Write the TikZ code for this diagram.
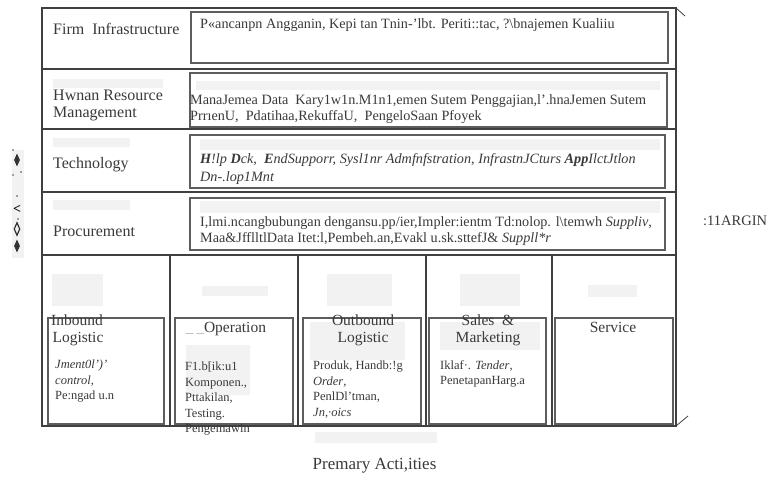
\documentclass[tikz,border=0pt]{standalone}
\usepackage{fontspec}
\setmainfont{Liberation Serif}
\usetikzlibrary{shapes.geometric}
\definecolor{ink}{HTML}{3A3A3A}
\definecolor{frame}{HTML}{404040}
\definecolor{ghost}{HTML}{F2F2F2}
\begin{document}
\begin{tikzpicture}[x=1pt,y=-1pt,
  frameline/.style={draw=frame,line width=1.1pt},
  innerbox/.style={draw=frame!85,line width=1.4pt},
  rowlabel/.style={anchor=west,inner sep=0pt,text=ink,font=\fontsize{16}{17}\selectfont,align=left},
  boxtext/.style={anchor=north west,inner sep=0pt,text=ink,font=\fontsize{14.2}{16}\selectfont,align=left},
  primtitle/.style={anchor=north,inner sep=0pt,text=ink,font=\fontsize{15.5}{17}\selectfont,align=center},
  primtext/.style={anchor=north west,inner sep=0pt,text=ink,font=\fontsize{12.5}{15.5}\selectfont,align=left},
  ghostbox/.style={fill=ghost,draw=none},
  glyph/.style={diamond,fill=black!80,inner sep=0pt,minimum width=6pt,minimum height=13pt}]
\useasboundingbox[fill=white] (0,0) rectangle (771,481);

% ghost blurs
\fill[ghostbox] (53,79) rectangle (163,88);
\fill[ghostbox] (196,81) rectangle (660,90);
\fill[ghostbox] (53,138) rectangle (130,147);
\fill[ghostbox] (200,139) rectangle (660,150);
\fill[ghostbox] (53,200) rectangle (130,210);
\fill[ghostbox] (200,201) rectangle (660,213);
\fill[ghostbox] (52,274) rectangle (103,306);
\fill[ghostbox] (202,286) rectangle (268,296);
\fill[ghostbox] (327,274) rectangle (392,306);
\fill[ghostbox] (460,274) rectangle (520,306);
\fill[ghostbox] (588,285) rectangle (637,297);
\fill[ghostbox] (186,345) rectangle (250,395);
\fill[ghostbox] (310,322) rectangle (405,360);
\fill[ghostbox] (440,322) rectangle (540,350);
\fill[ghostbox] (315,432) rectangle (437,443);
\fill[ghostbox] (12,150) rectangle (24,258);

% outer frame
\coordinate (tl) at (42,8);
\coordinate (tr) at (676,8);
\coordinate (br) at (676,426);
\coordinate (bl) at (42,426);
\coordinate (trtick) at (685,16);
\coordinate (brtick) at (688,416);
\draw[frameline] (tl) -- (tr) -- (br) -- (bl) -- cycle;
\draw[frame,line width=0.8pt] (tr) -- (trtick);
\draw[frame,line width=0.8pt] (br) -- (brtick);

% row dividers
\foreach \yy/\nm in {69/ra,129/rb,192/rc,255/rd}{
  \coordinate (\nm l) at (42,\yy);
  \coordinate (\nm r) at (676,\yy);
  \draw[frameline] (\nm l) -- (\nm r);
}
% column dividers
\foreach \xx/\nm in {170/ca,298/cb,426/cc,552/cd}{
  \coordinate (\nm t) at (\xx,255);
  \coordinate (\nm b) at (\xx,426);
  \draw[frameline] (\nm t) -- (\nm b);
}

% support boxes
\draw[innerbox] (191,12) rectangle (668,63);
\draw[innerbox] (190,73) rectangle (667,127);
\draw[innerbox] (190,135) rectangle (665,188);
\draw[innerbox] (190,198) rectangle (665,250);

% primary boxes
\draw[innerbox] (48,318) rectangle (164,424);
\draw[innerbox] (175,318) rectangle (293,424);
\draw[innerbox] (303,318) rectangle (421,424);
\draw[innerbox] (429,318) rectangle (546,424);
\draw[innerbox] (555,318) rectangle (673,424);

% row labels
\node[rowlabel] (firm) at (53,29) {Firm\ \ Infrastructure};
\node[rowlabel] (hrm) at (53,105) {Hwnan Resource\\Management};
\node[rowlabel] (tech) at (53,165) {Technology};
\node[rowlabel] (proc) at (53,231) {Procurement};

% support box texts
\node[boxtext] (firmt) at (200,18.4) {P«ancanpn Angganin, Kepi tan Tnin-'lbt. Periti::tac, ?\textbackslash bnajemen Kualiiu};
\node[boxtext] (hrmt) at (190,94.4) {ManaJemea Data\ \ Kary1w1n.M1n1,emen Sutem Penggajian,l'.hnaJemen Sutem\\PrrıenU,\ \ Pdatihaa,RekuffaU,\ \ PengeloSaan Pfoyek};
\node[boxtext,font=\fontsize{14.2}{18}\itshape\selectfont] (techt) at (200,153.4) {\textbf{H}!lp \textbf{D}ck,\ \ \textbf{E}ndSupporr, Sysl1nr Admfnfstration, InfrastnJCturs \textbf{App}IlctJtlon\\Dn-.lop1Mnt};
\node[boxtext] (proct) at (200,216.4) {I,lmi.ncangbubungan dengansu.pp/ier,Impler:ientm Td:nolop. l\textbackslash temwh \textit{Suppliv},\\Maa\&JfflltlData Itet:l,Pembeh.an,Evakl u.sk.sttefJ\& \textit{Suppll*r}};

% margin
\node[anchor=west,inner sep=0pt,text=ink,font=\fontsize{14.5}{16}\selectfont] (margin) at (703,221) {:11ARGIN};

% left vertical marks
\node[glyph] (ga) at (17,160) {};
\node[inner sep=0pt,font=\bfseries\fontsize{14}{14}\selectfont] (gb) at (17,209) {<};
\node[glyph,fill=none,draw=black!80,line width=1.2pt] (gc) at (17,229) {};
\node[glyph] (gd) at (17,246) {};
\fill[black!70] (13,150) circle (0.8) (21,172) circle (0.8) (13,175) circle (0.8) (17,196) circle (0.8) (18,219) circle (0.8);

% primary titles
\node[primtitle] (inb) at (83,315) {\hspace*{-12pt}Inbound\\Logistic\hspace*{10pt}};
\node[primtitle] (ops) at (226,322) {\textcolor{ink!40}{\_\,\_}Operation};
\node[primtitle] (outb) at (363,315) {Outbound\\Logistic};
\node[primtitle] (sales) at (488,315) {Sales\ \ \&\\Marketing};
\node[primtitle] (serv) at (613,322) {Service};

% primary texts
\node[primtext] (inbt) at (55,360) {\textit{Jment0l')'}\\\textit{control,}\\Pe:ngad u.n};
\node[primtext] (opst) at (185,362) {F1.b[ik:u1\\Komponen.,\\Pttakilan,\\Testing.\\Pengemawin};
\node[primtext] (outbt) at (313,361) {Produk, Handb:!g\\\textit{Order},\\PenlDl'tman,\\\textit{Jn,·oics}};
\node[primtext] (salest) at (440,360) {Iklaf·. \textit{Tender},\\PenetapanHarg.a};

% bottom caption
\node[anchor=center,inner sep=0pt,text=ink,font=\fontsize{17}{18}\selectfont] (prim) at (374.5,466) {Premary Acti,ities};
\end{tikzpicture}
\end{document}
